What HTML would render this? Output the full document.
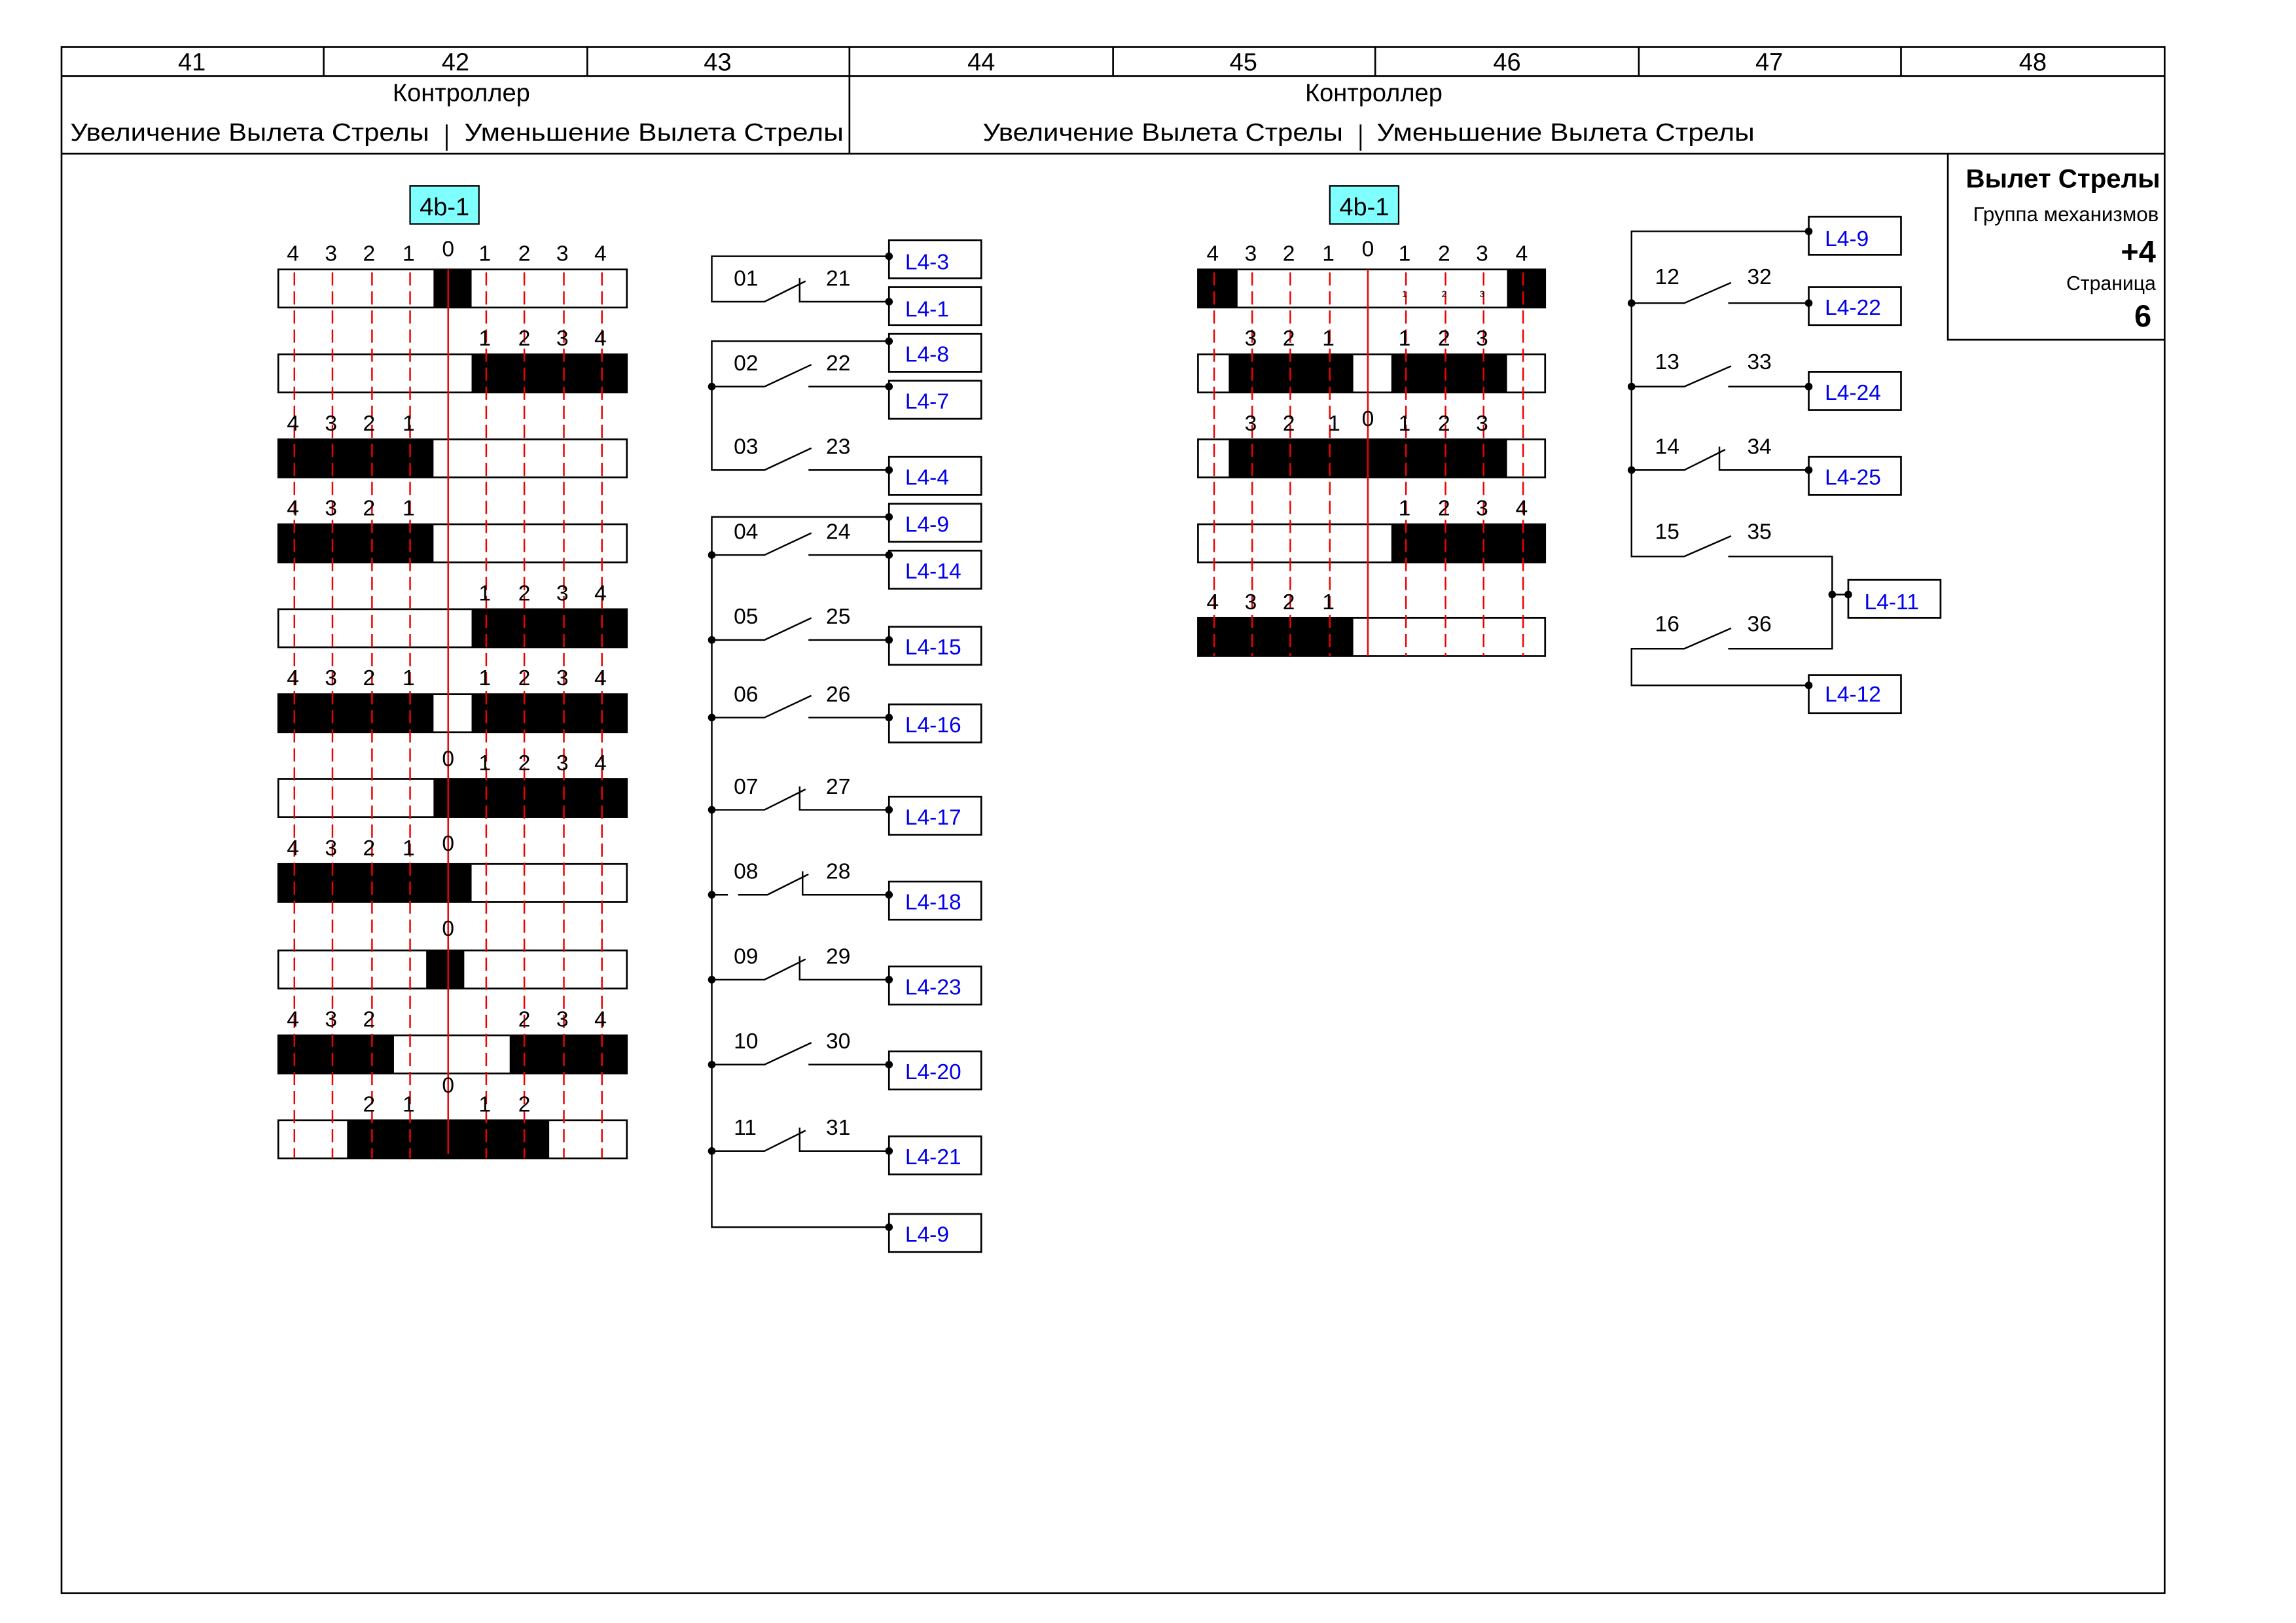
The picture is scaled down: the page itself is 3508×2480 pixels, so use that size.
<!DOCTYPE html>
<html><head><meta charset="utf-8"><style>
html,body{margin:0;padding:0;background:#fff}
svg{display:block}
text{font-family:"Liberation Sans",sans-serif}
</style></head><body>
<svg xmlns="http://www.w3.org/2000/svg" width="3508" height="2480" viewBox="0 0 1567.7 1108.3">
<rect x="0" y="0" width="1567.7" height="1108.3" fill="#fff"/>
<g fill="none" stroke="#000" stroke-width="1.2">
<rect x="42" y="32" width="1436" height="1056"/>
<line x1="42" y1="52" x2="1478" y2="52"/>
<line x1="42" y1="105" x2="1478" y2="105"/>
<line x1="221" y1="32" x2="221" y2="52"/><line x1="401" y1="32" x2="401" y2="52"/>
<line x1="580" y1="32" x2="580" y2="105"/><line x1="760" y1="32" x2="760" y2="52"/>
<line x1="939" y1="32" x2="939" y2="52"/><line x1="1119" y1="32" x2="1119" y2="52"/>
<line x1="1298" y1="32" x2="1298" y2="52"/>
<line x1="305" y1="85" x2="305" y2="103"/><line x1="929" y1="85" x2="929" y2="103"/>
<polyline points="1330,105 1330,232 1478,232"/>
</g>
<g font-size="17" text-anchor="middle" fill="#000">
<text x="131" y="48">41</text><text x="311" y="48">42</text><text x="490" y="48">43</text>
<text x="670" y="48">44</text><text x="849" y="48">45</text><text x="1029" y="48">46</text>
<text x="1208" y="48">47</text><text x="1388" y="48">48</text>
<text x="315" y="69">Контроллер</text><text x="938" y="69">Контроллер</text>
</g>
<g font-size="17" fill="#000">
<text x="48" y="96" textLength="245" lengthAdjust="spacingAndGlyphs">Увеличение Вылета Стрелы</text>
<text x="317" y="96" textLength="259" lengthAdjust="spacingAndGlyphs">Уменьшение  Вылета Стрелы</text>
<text x="671" y="96" textLength="246" lengthAdjust="spacingAndGlyphs">Увеличение Вылета Стрелы</text>
<text x="940" y="96" textLength="258" lengthAdjust="spacingAndGlyphs">Уменьшение  Вылета Стрелы</text>
</g>
<g text-anchor="end" fill="#000">
<text x="1475" y="128" font-size="18" font-weight="bold">Вылет Стрелы</text>
<text x="1474" y="151" font-size="14">Группа механизмов</text>
<text x="1472" y="179" font-size="21" font-weight="bold">+4</text>
<text x="1472" y="198" font-size="13.5">Страница</text>
<text x="1469" y="223" font-size="21" font-weight="bold">6</text>
</g>

<!-- LEFT CONTROLLER -->
<rect x="280" y="127" width="47" height="26" fill="#80ffff" stroke="#000" stroke-width="1"/>
<text x="303.5" y="147" font-size="17" text-anchor="middle">4b-1</text>
<g stroke="#000" stroke-width="1.2" fill="#fff">
<rect x="190" y="184" width="238" height="26"/><rect x="190" y="242" width="238" height="26"/>
<rect x="190" y="300" width="238" height="26"/><rect x="190" y="358" width="238" height="26"/>
<rect x="190" y="416" width="238" height="26"/><rect x="190" y="474" width="238" height="26"/>
<rect x="190" y="532" width="238" height="26"/><rect x="190" y="590" width="238" height="26"/>
<rect x="190" y="649" width="238" height="26"/><rect x="190" y="707" width="238" height="26"/>
<rect x="190" y="765" width="238" height="26"/>
</g>
<g fill="#000">
<rect x="296" y="184" width="26" height="26"/>
<rect x="322" y="242" width="106" height="26"/>
<rect x="190" y="300" width="106" height="26"/>
<rect x="190" y="358" width="106" height="26"/>
<rect x="322" y="416" width="106" height="26"/>
<rect x="190" y="474" width="106" height="26"/><rect x="322" y="474" width="106" height="26"/>
<rect x="296" y="532" width="132" height="26"/>
<rect x="190" y="590" width="132" height="26"/>
<rect x="291" y="649" width="26" height="26"/>
<rect x="190" y="707" width="79" height="26"/><rect x="348" y="707" width="80" height="26"/>
<rect x="237" y="765" width="138" height="26"/>
</g>
<g stroke="#e00" stroke-width="1.1" stroke-dasharray="9,4">
<line x1="201" y1="186" x2="201" y2="791"/><line x1="227" y1="186" x2="227" y2="791"/>
<line x1="254" y1="186" x2="254" y2="791"/><line x1="280" y1="186" x2="280" y2="791"/>
<line x1="332" y1="186" x2="332" y2="791"/><line x1="358" y1="186" x2="358" y2="791"/>
<line x1="385" y1="186" x2="385" y2="791"/><line x1="411" y1="186" x2="411" y2="791"/>
</g>
<line x1="306" y1="184" x2="306" y2="788" stroke="#e00" stroke-width="1.1"/>
<g font-size="15" text-anchor="middle" fill="#000">
<text x="200" y="178">4</text><text x="226" y="178">3</text><text x="252" y="178">2</text><text x="279" y="178">1</text><text x="306" y="175">0</text><text x="331" y="178">1</text><text x="358" y="178">2</text><text x="384" y="178">3</text><text x="410" y="178">4</text>
<text x="331" y="236">1</text><text x="358" y="236">2</text><text x="384" y="236">3</text><text x="410" y="236">4</text>
<text x="200" y="294">4</text><text x="226" y="294">3</text><text x="252" y="294">2</text><text x="279" y="294">1</text>
<text x="200" y="352">4</text><text x="226" y="352">3</text><text x="252" y="352">2</text><text x="279" y="352">1</text>
<text x="331" y="410">1</text><text x="358" y="410">2</text><text x="384" y="410">3</text><text x="410" y="410">4</text>
<text x="200" y="468">4</text><text x="226" y="468">3</text><text x="252" y="468">2</text><text x="279" y="468">1</text><text x="331" y="468">1</text><text x="358" y="468">2</text><text x="384" y="468">3</text><text x="410" y="468">4</text>
<text x="306" y="523">0</text><text x="331" y="526">1</text><text x="358" y="526">2</text><text x="384" y="526">3</text><text x="410" y="526">4</text>
<text x="200" y="584">4</text><text x="226" y="584">3</text><text x="252" y="584">2</text><text x="279" y="584">1</text><text x="306" y="581">0</text>
<text x="306" y="639">0</text>
<text x="200" y="701">4</text><text x="226" y="701">3</text><text x="252" y="701">2</text><text x="358" y="701">2</text><text x="384" y="701">3</text><text x="410" y="701">4</text>
<text x="306" y="746">0</text><text x="252" y="759">2</text><text x="279" y="759">1</text><text x="331" y="759">1</text><text x="358" y="759">2</text>
</g>

<!-- RIGHT CONTROLLER -->
<rect x="908" y="127" width="47" height="26" fill="#80ffff" stroke="#000" stroke-width="1"/>
<text x="931.5" y="147" font-size="17" text-anchor="middle">4b-1</text>
<g stroke="#000" stroke-width="1.2" fill="#fff">
<rect x="818" y="184" width="237" height="26"/><rect x="818" y="242" width="237" height="26"/>
<rect x="818" y="300" width="237" height="26"/><rect x="818" y="358" width="237" height="26"/>
<rect x="818" y="422" width="237" height="26"/>
</g>
<g fill="#000">
<rect x="818" y="184" width="27" height="26"/><rect x="1029" y="184" width="26" height="26"/>
<rect x="839" y="242" width="85" height="26"/><rect x="950" y="242" width="79" height="26"/>
<rect x="839" y="300" width="190" height="26"/>
<rect x="950" y="358" width="105" height="26"/>
<rect x="818" y="422" width="106" height="26"/>
</g>
<g stroke="#e00" stroke-width="1.1" stroke-dasharray="9,4">
<line x1="829" y1="186" x2="829" y2="448"/><line x1="855" y1="186" x2="855" y2="448"/>
<line x1="881" y1="186" x2="881" y2="448"/><line x1="908" y1="186" x2="908" y2="448"/>
<line x1="960" y1="186" x2="960" y2="448"/><line x1="987" y1="186" x2="987" y2="448"/>
<line x1="1013" y1="186" x2="1013" y2="448"/><line x1="1040" y1="186" x2="1040" y2="448"/>
</g>
<line x1="934" y1="184" x2="934" y2="448" stroke="#e00" stroke-width="1.1"/>
<g font-size="15" text-anchor="middle" fill="#000">
<text x="828" y="178">4</text><text x="854" y="178">3</text><text x="880" y="178">2</text><text x="907" y="178">1</text><text x="934" y="175">0</text><text x="959" y="178">1</text><text x="986" y="178">2</text><text x="1012" y="178">3</text><text x="1039" y="178">4</text>
<text x="854" y="236">3</text><text x="880" y="236">2</text><text x="907" y="236">1</text><text x="959" y="236">1</text><text x="986" y="236">2</text><text x="1012" y="236">3</text>
<text x="854" y="294">3</text><text x="880" y="294">2</text><text x="911" y="294">1</text><text x="934" y="291">0</text><text x="959" y="294">1</text><text x="986" y="294">2</text><text x="1012" y="294">3</text>
<text x="959" y="352">1</text><text x="986" y="352">2</text><text x="1012" y="352">3</text><text x="1039" y="352">4</text>
<text x="828" y="416">4</text><text x="854" y="416">3</text><text x="880" y="416">2</text><text x="907" y="416">1</text>
</g>
<g font-size="6" text-anchor="middle" fill="#000">
<text x="959" y="203">1</text><text x="986" y="203">2</text><text x="1012" y="203">3</text>
</g>

<!-- LEFT SWITCHES -->
<g stroke="#000" stroke-width="1.1" fill="none">
<polyline points="607,175 486,175 486,206 522,206 550,192"/><polyline points="546,190 546,206 607,206"/>
<polyline points="607,233 486,233 486,321 522,321 554,306"/><line x1="552" y1="321" x2="607" y2="321"/>
<polyline points="522,264 554,249"/><line x1="486" y1="264" x2="522" y2="264"/><line x1="552" y1="264" x2="607" y2="264"/>
<polyline points="607,353 486,353 486,838 607,838"/>
<polyline points="486,379 522,379 554,364"/><line x1="552" y1="379" x2="607" y2="379"/>
<polyline points="486,437 522,437 554,422"/><line x1="552" y1="437" x2="607" y2="437"/>
<polyline points="486,490 522,490 554,475"/><line x1="552" y1="490" x2="607" y2="490"/>
<polyline points="486,553 522,553 550,539"/><polyline points="546,537 546,553 607,553"/>
<line x1="486" y1="611" x2="497" y2="611"/><polyline points="504,611 524,611 552,597"/><polyline points="548,595 548,611 607,611"/>
<polyline points="486,669 522,669 550,655"/><polyline points="546,653 546,669 607,669"/>
<polyline points="486,727 522,727 554,712"/><line x1="552" y1="727" x2="607" y2="727"/>
<polyline points="486,786 522,786 550,772"/><polyline points="546,770 546,786 607,786"/>
</g>
<g stroke="#000" stroke-width="1.2" fill="#fff">
<rect x="607" y="164" width="63" height="26"/><rect x="607" y="196" width="63" height="26"/>
<rect x="607" y="228" width="63" height="26"/><rect x="607" y="260" width="63" height="26"/>
<rect x="607" y="312" width="63" height="26"/><rect x="607" y="344" width="63" height="26"/>
<rect x="607" y="376" width="63" height="26"/><rect x="607" y="428" width="63" height="26"/>
<rect x="607" y="481" width="63" height="26"/><rect x="607" y="544" width="63" height="26"/>
<rect x="607" y="602" width="63" height="26"/><rect x="607" y="660" width="63" height="26"/>
<rect x="607" y="718" width="63" height="26"/><rect x="607" y="776" width="63" height="26"/>
<rect x="607" y="829" width="63" height="26"/>
</g>
<g fill="#000">
<circle cx="607" cy="175" r="2.6"/><circle cx="607" cy="206" r="2.6"/><circle cx="607" cy="233" r="2.6"/><circle cx="607" cy="264" r="2.6"/><circle cx="607" cy="321" r="2.6"/><circle cx="607" cy="353" r="2.6"/><circle cx="607" cy="379" r="2.6"/><circle cx="607" cy="437" r="2.6"/><circle cx="607" cy="490" r="2.6"/><circle cx="607" cy="553" r="2.6"/><circle cx="607" cy="611" r="2.6"/><circle cx="607" cy="669" r="2.6"/><circle cx="607" cy="727" r="2.6"/><circle cx="607" cy="786" r="2.6"/><circle cx="607" cy="838" r="2.6"/>
<circle cx="486" cy="264" r="2.6"/><circle cx="486" cy="379" r="2.6"/><circle cx="486" cy="437" r="2.6"/><circle cx="486" cy="490" r="2.6"/><circle cx="486" cy="553" r="2.6"/><circle cx="486" cy="611" r="2.6"/><circle cx="486" cy="669" r="2.6"/><circle cx="486" cy="727" r="2.6"/><circle cx="486" cy="786" r="2.6"/>
</g>
<g font-size="15" fill="#0000ee">
<text x="618" y="184">L4-3</text><text x="618" y="216">L4-1</text><text x="618" y="247">L4-8</text><text x="618" y="279">L4-7</text>
<text x="618" y="331">L4-4</text><text x="618" y="363">L4-9</text><text x="618" y="395">L4-14</text><text x="618" y="447">L4-15</text>
<text x="618" y="500">L4-16</text><text x="618" y="563">L4-17</text><text x="618" y="621">L4-18</text><text x="618" y="679">L4-23</text>
<text x="618" y="737">L4-20</text><text x="618" y="795">L4-21</text><text x="618" y="848">L4-9</text>
</g>
<g font-size="15" fill="#000">
<text x="501" y="195">01</text><text x="564" y="195">21</text>
<text x="501" y="253">02</text><text x="564" y="253">22</text>
<text x="501" y="310">03</text><text x="564" y="310">23</text>
<text x="501" y="368">04</text><text x="564" y="368">24</text>
<text x="501" y="426">05</text><text x="564" y="426">25</text>
<text x="501" y="479">06</text><text x="564" y="479">26</text>
<text x="501" y="542">07</text><text x="564" y="542">27</text>
<text x="501" y="600">08</text><text x="564" y="600">28</text>
<text x="501" y="658">09</text><text x="564" y="658">29</text>
<text x="501" y="716">10</text><text x="564" y="716">30</text>
<text x="501" y="775">11</text><text x="564" y="775">31</text>
</g>

<!-- RIGHT SWITCHES -->
<g stroke="#000" stroke-width="1.1" fill="none">
<polyline points="1235,158 1114,158 1114,380 1150,380 1182,366"/>
<polyline points="1114,207 1150,207 1182,193"/><line x1="1180" y1="207" x2="1235" y2="207"/>
<polyline points="1114,264 1150,264 1182,250"/><line x1="1180" y1="264" x2="1235" y2="264"/>
<polyline points="1114,321 1150,321 1178,307"/><polyline points="1174,305 1174,321 1235,321"/>
<polyline points="1180,380 1251,380 1251,443 1180,443"/>
<line x1="1251" y1="406" x2="1262" y2="406"/>
<polyline points="1182,429 1150,443 1114,443 1114,468 1235,468"/>
</g>
<g stroke="#000" stroke-width="1.2" fill="#fff">
<rect x="1235" y="148" width="63" height="26"/><rect x="1235" y="196" width="63" height="26"/>
<rect x="1235" y="254" width="63" height="26"/><rect x="1235" y="312" width="63" height="26"/>
<rect x="1262" y="396" width="63" height="26"/><rect x="1235" y="461" width="63" height="26"/>
</g>
<g fill="#000">
<circle cx="1235" cy="158" r="2.6"/><circle cx="1235" cy="207" r="2.6"/><circle cx="1235" cy="264" r="2.6"/><circle cx="1235" cy="321" r="2.6"/><circle cx="1235" cy="468" r="2.6"/>
<circle cx="1251" cy="406" r="2.6"/><circle cx="1262" cy="406" r="2.6"/>
<circle cx="1114" cy="207" r="2.6"/><circle cx="1114" cy="264" r="2.6"/><circle cx="1114" cy="321" r="2.6"/>
</g>
<g font-size="15" fill="#0000ee">
<text x="1246" y="168">L4-9</text><text x="1246" y="215">L4-22</text><text x="1246" y="273">L4-24</text>
<text x="1246" y="331">L4-25</text><text x="1273" y="416">L4-11</text><text x="1246" y="479">L4-12</text>
</g>
<g font-size="15" fill="#000">
<text x="1130" y="194">12</text><text x="1193" y="194">32</text>
<text x="1130" y="252">13</text><text x="1193" y="252">33</text>
<text x="1130" y="310">14</text><text x="1193" y="310">34</text>
<text x="1130" y="368">15</text><text x="1193" y="368">35</text>
<text x="1130" y="431">16</text><text x="1193" y="431">36</text>
</g>
</svg>
</body></html>
